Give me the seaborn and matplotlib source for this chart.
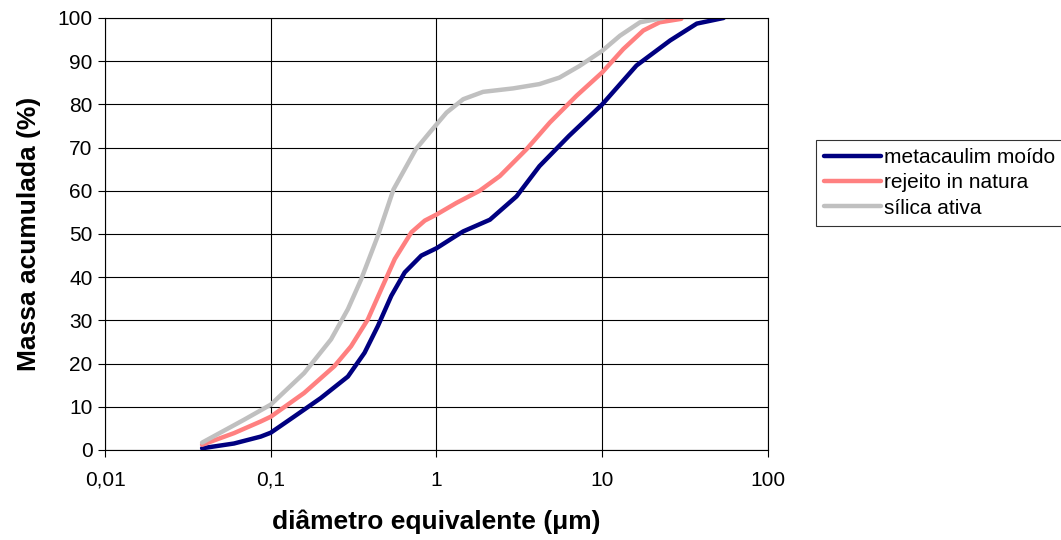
import numpy as np
import pandas as pd
import matplotlib
matplotlib.use("Agg")
import matplotlib.pyplot as plt
import seaborn as sns

# curves (diameter in um, cumulative mass in %)
meta_d = [0.0385, 0.06, 0.087, 0.1, 0.138, 0.2, 0.292, 0.368, 0.443, 0.534, 0.643, 0.81, 1.0,
          1.29, 1.45, 2.1, 3.04, 4.18, 6.3, 10, 16.1, 25.7, 37.2, 54]
meta_y = [0.4, 1.5, 3.1, 4.0, 7.7, 12.0, 17.0, 22.5, 28.7, 35.7, 41.1, 45.0, 46.7,
          49.4, 50.6, 53.3, 58.7, 65.7, 72.7, 80.0, 89.0, 94.8, 98.7, 100]

rej_d = [0.0385, 0.06, 0.087, 0.1, 0.159, 0.242, 0.305, 0.385, 0.464, 0.56, 0.706, 0.85, 1.0,
         1.32, 1.82, 2.41, 3.49, 4.83, 7.0, 10, 13.4, 17.7, 22.2, 30]
rej_y = [1.2, 3.9, 6.6, 7.7, 13.2, 19.4, 24.0, 30.2, 37.2, 44.2, 50.4, 53.1, 54.5,
         57.2, 60.0, 63.4, 69.6, 75.8, 82.0, 87.4, 92.8, 97.1, 99.0, 99.8]

sil_d = [0.0385, 0.069, 0.1, 0.159, 0.231, 0.292, 0.351, 0.443, 0.55, 0.75, 0.91, 1.15,
         1.45, 1.91, 2.9, 4.18, 5.52, 7.3, 10, 12.8, 16.9, 23.3]
sil_y = [1.7, 7.0, 10.5, 17.8, 25.6, 32.6, 39.5, 49.6, 60.3, 69.6, 73.5, 78.1,
         81.2, 82.9, 83.7, 84.7, 86.2, 88.9, 92.4, 95.9, 99.0, 100]

series_names = ["metacaulim moído", "rejeito in natura", "sílica ativa"]
series_colors = ["#000080", "#FF8080", "#C0C0C0"]

x_ticks = [0.01, 0.1, 1, 10, 100]
x_tick_labels = ["0,01", "0,1", "1", "10", "100"]

df = pd.concat([
    pd.DataFrame({"d": meta_d, "m": meta_y, "s": series_names[0]}),
    pd.DataFrame({"d": rej_d, "m": rej_y, "s": series_names[1]}),
    pd.DataFrame({"d": sil_d, "m": sil_y, "s": series_names[2]}),
])

sns.set_style("white")
plt.rcParams["font.family"] = ["Liberation Sans", "DejaVu Sans"]
plt.rcParams["text.color"] = "black"
plt.rcParams["axes.labelcolor"] = "black"

fig = plt.figure(figsize=(10.61, 5.4), dpi=100)
ax = fig.add_axes([0.099, 0.1667, 0.6248, 0.8])

sns.lineplot(data=df, x="d", y="m", hue="s", hue_order=series_names,
             palette=series_colors, linewidth=3.2, sort=True, ax=ax)
for line in ax.get_lines():
    line.set_solid_joinstyle("round")
    line.set_solid_capstyle("round")

ax.set_xscale("log")
ax.set_xlim(0.01, 100)
ax.set_ylim(0, 100)
ax.set_xticks(x_ticks)
ax.set_xticklabels(x_tick_labels)
ax.minorticks_off()
ax.set_yticks(np.arange(0, 101, 10))
ax.grid(True, color="black", linewidth=0.8)
for sp in ax.spines.values():
    sp.set_color("black")
    sp.set_linewidth(0.8)
ax.tick_params(axis="both", labelsize=15, colors="black", labelcolor="black",
               length=5, width=0.8, direction="out", left=True, bottom=True)
ax.tick_params(axis="x", pad=10)
ax.tick_params(axis="y", pad=4)

ax.set_xlabel("diâmetro equivalente (μm)", fontsize=19, fontweight="bold", labelpad=14)
ax.set_ylabel("Massa acumulada (%)", fontsize=19, fontweight="bold", labelpad=12)

leg = ax.legend(loc="upper left", bbox_to_anchor=(1.072, 0.718), fontsize=15,
                frameon=True, fancybox=False, edgecolor="black", handlelength=2.75,
                handletextpad=0.12, borderpad=0.4, labelspacing=0.3, title=None,
                borderaxespad=0)
leg.get_frame().set_linewidth(0.8)
for line in leg.get_lines():
    line.set_linewidth(3.2)

fig.savefig("out.png", dpi=100)
